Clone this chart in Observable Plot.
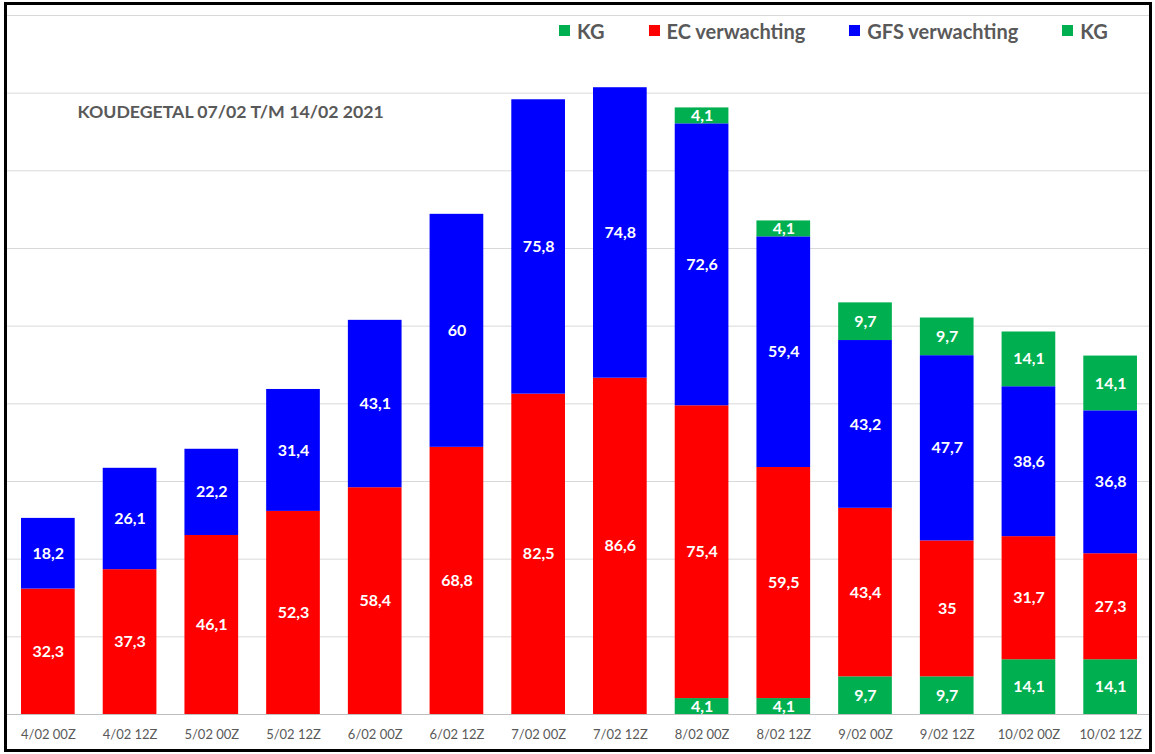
<!DOCTYPE html>
<html>
<head>
<meta charset="utf-8">
<script src="https://cdn.jsdelivr.net/npm/d3@7"></script>
<script src="https://cdn.jsdelivr.net/npm/@observablehq/plot@0.6"></script>
<style>
  html, body { margin: 0; padding: 0; background: #fff; }
  #wrap { position: relative; width: 1155px; height: 754px; overflow: hidden; font-family: Lato, "Open Sans", sans-serif; }
  #chart { position: absolute; left: 0; top: 0; }
  #frame { position: absolute; left: 4px; top: 2px; width: 1148px; height: 750px; box-sizing: border-box; border: 3px solid #000; pointer-events: none; }
  #legend { position: absolute; left: 559px; top: 18px; display: flex; gap: 44px; }
  .item { display: flex; align-items: center; height: 25px; font-size: 20px; font-weight: bold; color: #595959; white-space: nowrap; }
  .sw { width: 11px; height: 11px; margin-right: 7px; }
</style>
</head>
<body>
<div id="wrap">
  <div id="chart"></div>
  <div id="legend"></div>
  <div id="frame"></div>
</div>
<script>
// ---- data ----
const categories = ["4/02 00Z","4/02 12Z","5/02 00Z","5/02 12Z","6/02 00Z","6/02 12Z","7/02 00Z","7/02 12Z","8/02 00Z","8/02 12Z","9/02 00Z","9/02 12Z","10/02 00Z","10/02 12Z"];
const kgOnder        = [0, 0, 0, 0, 0, 0, 0, 0, 4.1, 4.1, 9.7, 9.7, 14.1, 14.1];
const ecVerwachting  = [32.3, 37.3, 46.1, 52.3, 58.4, 68.8, 82.5, 86.6, 75.4, 59.5, 43.4, 35, 31.7, 27.3];
const gfsVerwachting = [18.2, 26.1, 22.2, 31.4, 43.1, 60, 75.8, 74.8, 72.6, 59.4, 43.2, 47.7, 38.6, 36.8];
const kgBoven        = [0, 0, 0, 0, 0, 0, 0, 0, 4.1, 4.1, 9.7, 9.7, 14.1, 14.1];
const seriesNames  = ["KG", "EC verwachting", "GFS verwachting", "KG"];
const seriesColors = ["#00B050", "#FF0000", "#0000FF", "#00B050"];
const gridValues = [20, 40, 60, 80, 100, 120, 140, 160, 180];
const titleText = "KOUDEGETAL 07/02 T/M 14/02 2021";

// ---- tidy table ----
const seriesValues = [kgOnder, ecVerwachting, gfsVerwachting, kgBoven];
const data = [];
categories.forEach((cat, i) => {
  seriesValues.forEach((vals, s) => {
    data.push({cat, series: "s" + s, value: vals[i], color: seriesColors[s]});
  });
});
const fmt = v => String(v).replace(".", ",");

const chart = Plot.plot({
  width: 1155,
  height: 754,
  marginLeft: 7,
  marginRight: 4,
  marginTop: 15,
  marginBottom: 40,
  style: {fontFamily: "Lato, 'Open Sans', sans-serif", background: "transparent"},
  x: {domain: categories, paddingInner: 0.343, paddingOuter: 0.1715, align: 0.5, round: false, label: null, axis: null},
  y: {domain: [0, 180], axis: null},
  color: {type: "identity"},
  marks: [
    Plot.ruleY(gridValues, {stroke: "#d9d9d9", strokeWidth: 1}),
    Plot.ruleY([0], {stroke: "#bfbfbf", strokeWidth: 1}),
    Plot.barY(data, {x: "cat", y: "value", z: "series", fill: "color", insetLeft: 0, insetRight: 0}),
    Plot.text(data.filter(d => d.value > 0), Plot.stackY({
      x: "cat", y: "value", z: "series",
      text: d => fmt(d.value),
      fill: "white", fontSize: 16, fontWeight: "bold"
    })),
    Plot.axisX({tickSize: 0, tickPadding: 15, fontSize: 13, fill: "#595959", label: null}),
    Plot.text([titleText], {
      frameAnchor: "top-left", dx: 70, dy: 97, textAnchor: "start", lineAnchor: "middle",
      fontSize: 17.7, fontWeight: "bold", fill: "#595959"
    })
  ]
});
document.getElementById("chart").appendChild(chart);

// ---- legend ----
const legend = document.getElementById("legend");
seriesNames.forEach((name, s) => {
  const item = document.createElement("div");
  item.className = "item";
  const sw = document.createElement("span");
  sw.className = "sw";
  sw.style.background = seriesColors[s];
  const label = document.createElement("span");
  label.textContent = name;
  item.appendChild(sw);
  item.appendChild(label);
  legend.appendChild(item);
});
</script>
</body>
</html>
